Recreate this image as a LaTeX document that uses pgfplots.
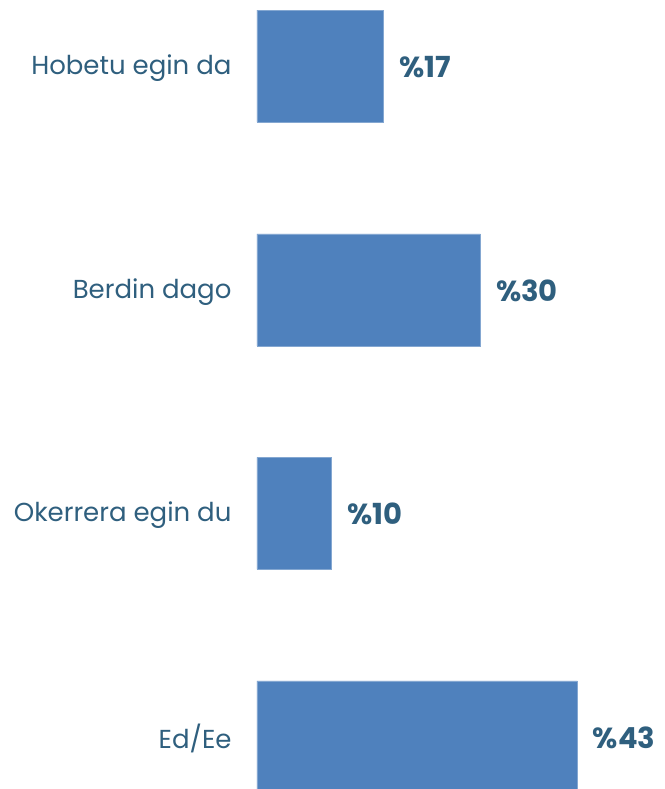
\documentclass[border=0pt]{standalone}
\usepackage{pgfplots}
\pgfplotsset{compat=1.18}
\usepackage{fontspec}
\setmainfont{Poppins}
\definecolor{barblue}{RGB}{79,129,189}
\definecolor{txtblue}{RGB}{47,95,126}
\begin{document}
\begin{tikzpicture}
\begin{axis}[
  name=ax,
  xbar,
  scale only axis,
  width=406pt, height=789pt,
  xmin=0, xmax=54.5,
  ymin=-0.296, ymax=3.233,
  y dir=reverse,
  axis line style={draw=none},
  tick style={draw=none},
  xtick=\empty,
  ytick={0,1,2,3},
  yticklabels={Hobetu egin da,Berdin dago,Okerrera egin du,Ed/Ee},
  major tick length=0pt,
  yticklabel style={anchor=east, font=\fontsize{26}{30}\selectfont, text=txtblue, xshift=-22pt, yshift=-2pt},
  bar width=112pt,
  bar shift=0pt,
  /pgf/number format/assume math mode=true,
  nodes near coords={\textbf{\%\pgfmathprintnumber[assume math mode=true]{\pgfplotspointmeta}}},
  nodes near coords style={anchor=west, font=\fontsize{29}{33}\selectfont\bfseries, text=txtblue, xshift=12pt, yshift=-1pt},
  clip=true,
]
\addplot[fill=barblue, draw=barblue!70!white] coordinates {(17,0) (30,1) (10,2) (43,3)};
\end{axis}
\pgfresetboundingbox
\path ([xshift=-257pt]ax.south west) rectangle ([xshift=1pt]ax.north east);
\end{tikzpicture}
\end{document}
